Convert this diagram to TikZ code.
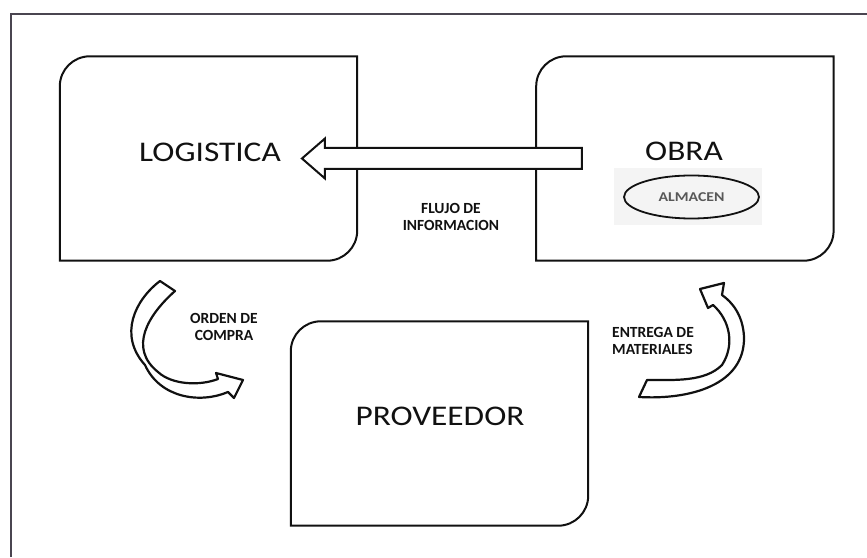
\documentclass[tikz,border=0pt]{standalone}
\usepackage{fontspec}
\setmainfont{Carlito}
\newfontfamily\widefont[FakeStretch=1.17]{Carlito}
\usepackage{tikz}
\usetikzlibrary{arrows.meta,positioning,shapes.geometric,shapes.arrows,calc}
\definecolor{ink}{HTML}{111111}
\definecolor{edge}{HTML}{4A4550}
\definecolor{paste}{HTML}{F4F4F4}
\tikzset{
  docbox/.style={rectangle, minimum width=297pt, minimum height=204pt, inner sep=0pt},
  frameline/.style={draw=ink, line width=2pt},
  title/.style={font=\widefont\fontsize{28.5}{30}\selectfont, text=ink, inner sep=0pt},
  tag/.style={font=\bfseries\fontsize{15.5}{17}\selectfont, text=ink, inner sep=0pt},
  store/.style={ellipse, draw=ink, line width=1.8pt, minimum width=135pt, minimum height=43pt,
                inner sep=0pt, font=\widefont\bfseries\fontsize{13.5}{15}\selectfont, text=ink!70},
  infoarrow/.style={single arrow, shape border rotate=180, draw=ink, fill=white, line width=2pt,
                    minimum height=280pt, inner xsep=0pt, inner ysep=9.5pt,
                    single arrow head extend=9.5pt, single arrow tip angle=82},
  curvearrow/.style={draw=ink, line width=2.2pt, fill=white, line join=round}
}
% box with two rounded corners (top left, bottom right)
\newcommand{\docframe}[1]{%
  \draw[frameline] (#1.south west) -- ([yshift=-30pt]#1.north west)
    arc[start angle=180, end angle=90, radius=30pt] -- (#1.north east)
    -- ([yshift=30pt]#1.south east)
    arc[start angle=0, end angle=-90, radius=30pt] -- cycle;}

\begin{document}
\begin{tikzpicture}[x=1pt, y=1pt]
  \useasboundingbox (0,0) rectangle (867,557);
  \draw[edge, line width=2pt] (11,0) -- (11,543) -- (867,543);

  % boxes
  \node[docbox] (logbox) at (208.5,398.5) {};
  \node[docbox, right=179pt of logbox] (obrabox) {};
  \node[docbox] (provbox) at (439.5,133.5) {};
  \docframe{logbox} \docframe{obrabox} \docframe{provbox}

  \node[title] (log) at (210,404.5) {LOGISTICA};
  \node[title] (obra) at (684,406) {OBRA};
  \node[title] (prov) at (440,141) {PROVEEDOR};

  \fill[paste] (614,332) rectangle (762,389);
  \node[store] (alm) at (691.5,360) {ALMACEN};

  % flujo de informacion
  \node[infoarrow] (flujo) at (448,398.5) {};
  \node[tag, align=center] (flujolbl) at (451,340.5) {FLUJO DE\\INFORMACION};

  % orden de compra
  \draw[curvearrow] (175,266) .. controls (148,242) and (128,209) .. (158,185)
    .. controls (172,172) and (200,171) .. (218,178)
    -- (216,184) -- (243,177) -- (234,159) -- (228,165)
    .. controls (200,153) and (160,159) .. (145,192)
    .. controls (118,222) and (135,257) .. (160,276) -- cycle;
  \node[tag, align=center] (orden) at (224,230) {ORDEN DE\\COMPRA};

  % entrega de materiales
  \draw[curvearrow] (647,177) -- (639,160)
    .. controls (690,157) and (745,172) .. (744,220)
    .. controls (743,242) and (732,255) .. (722,262)
    -- (724,274) -- (700,268) -- (708,249) -- (713,252)
    .. controls (730,237) and (735,212) .. (722,192)
    .. controls (705,175) and (675,177) .. (647,177) -- cycle;
  \node[tag, align=left, anchor=west] (entrega) at (612,216.5) {ENTREGA DE\\MATERIALES};
\end{tikzpicture}
\end{document}
